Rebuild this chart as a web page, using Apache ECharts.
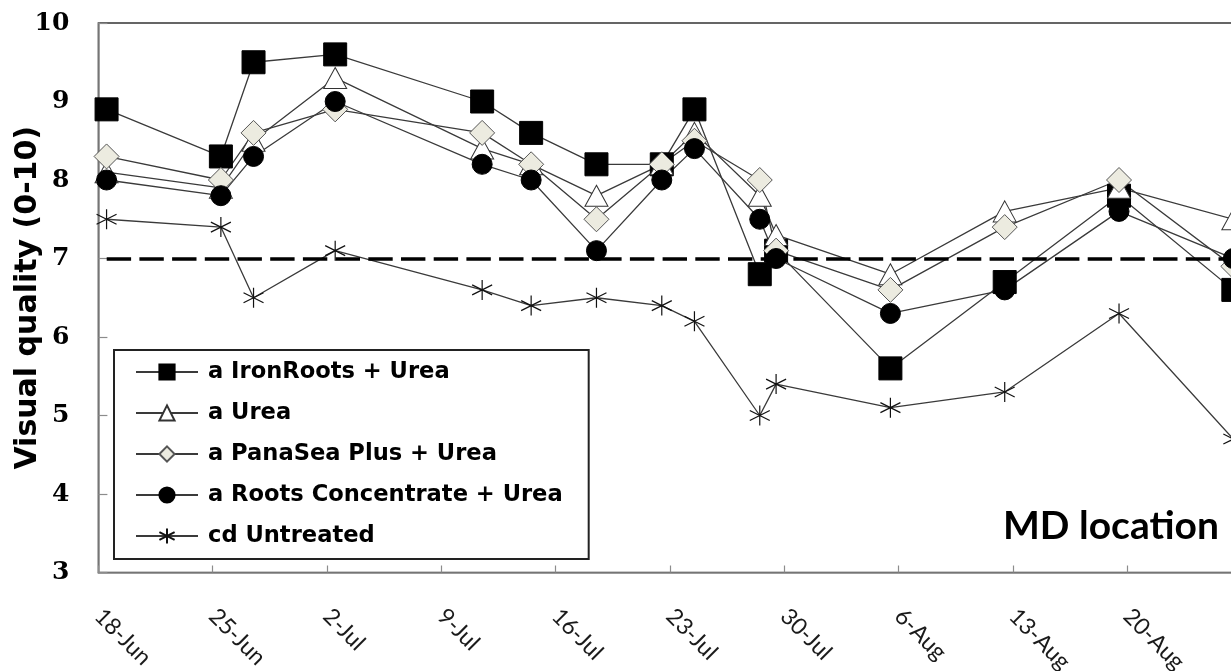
<!DOCTYPE html>
<html>
<head>
<meta charset="utf-8">
<script src="https://cdn.jsdelivr.net/npm/echarts@6/dist/echarts.min.js"></script>
<style>
html,body{margin:0;padding:0;background:#fff;}
#chart{width:1231px;height:671px;}
</style>
</head>
<body>
<div id="chart"></div>
<script>
// Sampling dates (day-month)
const dates = ['18-Jun','25-Jun','27-Jun','2-Jul','11-Jul','14-Jul','18-Jul','22-Jul','24-Jul','28-Jul','29-Jul','5-Aug','12-Aug','19-Aug','26-Aug'];
const seriesNames = ['a IronRoots + Urea','a Urea','a PanaSea Plus + Urea','a Roots Concentrate + Urea','cd Untreated'];
const ironRoots   = [8.9, 8.3, 9.5, 9.6, 9.0, 8.6, 8.2, 8.2, 8.9, 6.8, 7.1, 5.6, 6.7, 7.8, 6.6];
const urea        = [8.1, 7.9, 8.5, 9.3, 8.4, 8.2, 7.8, 8.2, 8.6, 7.8, 7.3, 6.8, 7.6, 7.9, 7.5];
const panaSea     = [8.3, 8.0, 8.6, 8.9, 8.6, 8.2, 7.5, 8.2, 8.5, 8.0, 7.1, 6.6, 7.4, 8.0, 6.9];
const rootsConc   = [8.0, 7.8, 8.3, 9.0, 8.2, 8.0, 7.1, 8.0, 8.4, 7.5, 7.0, 6.3, 6.6, 7.6, 7.0];
const untreated   = [7.5, 7.4, 6.5, 7.1, 6.6, 6.4, 6.5, 6.4, 6.2, 5.0, 5.4, 5.1, 5.3, 6.3, 4.7];
const threshold = 7;
const yTicks = [3, 4, 5, 6, 7, 8, 9, 10];
const locationLabel = 'MD location';

const MONTHS = ['Jan','Feb','Mar','Apr','May','Jun','Jul','Aug','Sep','Oct','Nov','Dec'];
const DAY = 86400000;
function parseDate(s){
  const p = s.split('-');
  return Date.UTC(2013, MONTHS.indexOf(p[1]), parseInt(p[0], 10));
}
const base = parseDate(dates[0]);
// Excel date axis plots each date in the middle of its day slot
const xs = dates.map(d => (parseDate(d) - base) / DAY + 0.5);
function fmtDay(v){
  const d = new Date(base + Math.round(v) * DAY);
  return d.getUTCDate() + '-' + MONTHS[d.getUTCMonth()];
}
function pairs(vals){ return vals.map((v, i) => [xs[i], v]); }

const lineStyle = {color: '#3a3a3a', width: 1.3};
const starPath = 'path://M0,-10L0,10M-8.7,-5L8.7,5M-8.7,5L8.7,-5';

const chart = echarts.init(document.getElementById('chart'), null, {renderer: 'canvas'});
chart.setOption({
  animation: false,
  backgroundColor: '#fff',
  grid: {left: 98.4, top: 23, width: 1143.1, height: 549.5, show: true, borderColor: '#333', borderWidth: 1.5,
         backgroundColor: 'transparent', containLabel: false, outerBoundsMode: 'none'},
  xAxis: {
    type: 'value', min: 0, max: 70, interval: 7,
    axisLine: {show: true, lineStyle: {color: '#8c8c8c', width: 1.5}},
    axisTick: {show: true, inside: true, length: 7, lineStyle: {color: '#8c8c8c', width: 1.2}},
    splitLine: {show: false},
    axisLabel: {
      rotate: -45, margin: 40, color: '#1a1a1a', fontFamily: 'Lato', fontSize: 23,
      formatter: v => fmtDay(v), showMinLabel: true, showMaxLabel: true
    }
  },
  yAxis: {
    type: 'value', min: yTicks[0], max: yTicks[yTicks.length - 1], interval: 1,
    name: 'Visual quality (0-10)', nameLocation: 'middle', nameGap: 55, nameMoveOverlap: false,
    nameTextStyle: {fontFamily: 'DejaVu Sans', fontWeight: 'bold', fontSize: 30, color: '#000'},
    axisLine: {show: true, lineStyle: {color: '#8c8c8c', width: 1.5}},
    axisTick: {show: true, inside: true, length: 9, lineStyle: {color: '#8c8c8c', width: 1.2}},
    splitLine: {show: false},
    axisLabel: {margin: 29, color: '#000', fontFamily: 'DejaVu Serif', fontWeight: 'bold', fontSize: 25}
  },
  legend: {
    orient: 'vertical', left: 114, top: 350,
    data: seriesNames,
    itemWidth: 62, itemHeight: 19, itemGap: 17,
    padding: [10, 26, 11, 21],
    borderColor: '#222', borderWidth: 2, backgroundColor: '#fff',
    textStyle: {fontFamily: 'DejaVu Sans', fontWeight: 'bold', fontSize: 22.6, color: '#000', lineHeight: 24, padding: [0, 0, 0, 5]}
  },
  graphic: [{
    type: 'text', left: 1003, top: 507, z: 10,
    style: {text: locationLabel, fontFamily: 'Lato', fontWeight: 'bold', fontSize: 39, fill: '#000'}
  }],
  series: [
    {
      name: seriesNames[0], type: 'line', data: pairs(ironRoots),
      symbol: 'rect', symbolSize: 23, showAllSymbol: true,
      lineStyle: lineStyle, itemStyle: {color: '#000', borderColor: '#000', borderWidth: 1},
      markLine: {
        silent: true, symbol: 'none', label: {show: false},
        lineStyle: {color: '#000', width: 3.5, type: [24.4, 8.3], dashOffset: 24.4},
        data: [{yAxis: threshold}]
      }
    },
    {
      name: seriesNames[1], type: 'line', data: pairs(urea),
      symbol: 'triangle', symbolSize: [23, 21], showAllSymbol: true,
      lineStyle: lineStyle, itemStyle: {color: '#fff', borderColor: '#333', borderWidth: 1}
    },
    {
      name: seriesNames[2], type: 'line', data: pairs(panaSea),
      symbol: 'diamond', symbolSize: 25, showAllSymbol: true,
      lineStyle: lineStyle, itemStyle: {color: '#ecebe0', borderColor: '#555', borderWidth: 1}
    },
    {
      name: seriesNames[3], type: 'line', data: pairs(rootsConc),
      symbol: 'circle', symbolSize: 20, showAllSymbol: true,
      lineStyle: lineStyle, itemStyle: {color: '#000', borderColor: '#000', borderWidth: 1}
    },
    {
      name: seriesNames[4], type: 'line', data: pairs(untreated),
      symbol: starPath, symbolSize: 20, showAllSymbol: true,
      lineStyle: lineStyle, itemStyle: {color: 'transparent', borderColor: '#111', borderWidth: 1.2}
    }
  ]
});
</script>
</body>
</html>
